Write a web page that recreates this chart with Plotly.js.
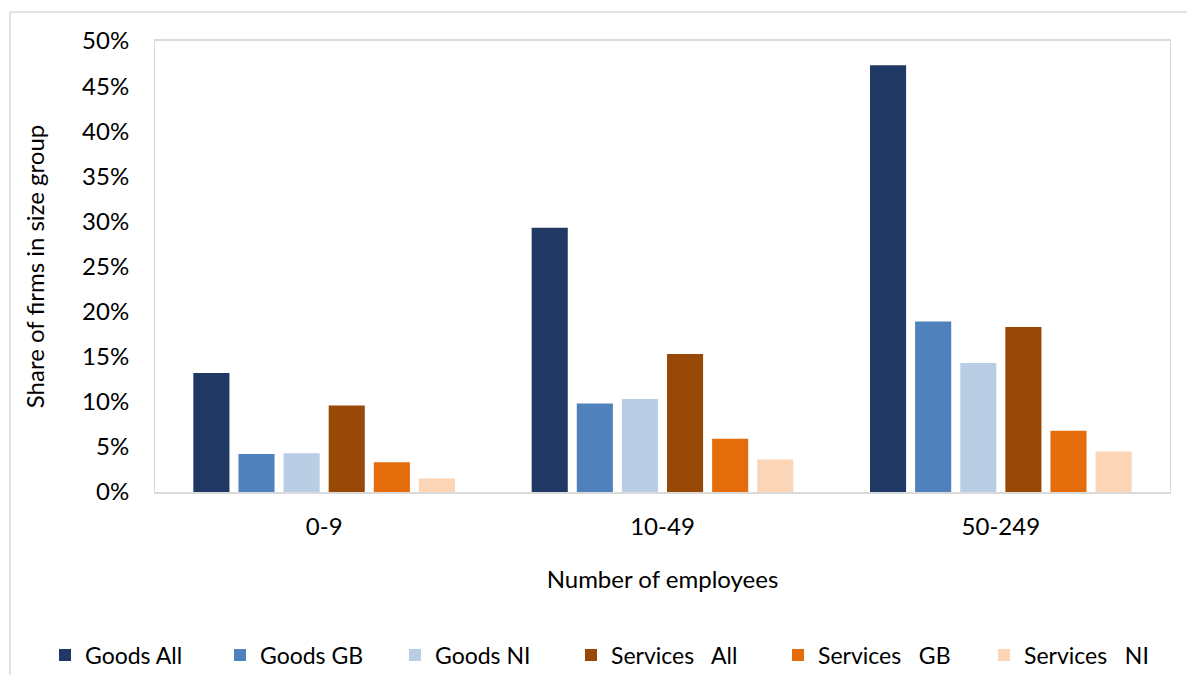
<!DOCTYPE html>
<html>
<head>
<meta charset="utf-8">
<script src="https://cdn.plot.ly/plotly-3.0.1.min.js"></script>
<style>html,body{margin:0;padding:0;background:#fff;}#chart{width:1187px;height:675px;}</style>
</head>
<body>
<div id="chart"></div>
<script>
const categories = ["0-9", "10-49", "50-249"];
const seriesNames = ["Goods All", "Goods GB", "Goods NI", "Services\u00a0\u00a0 All", "Services\u00a0\u00a0 GB", "Services\u00a0\u00a0 NI"];
const goodsAll = [13.2, 29.3, 47.3];
const goodsGB = [4.2, 9.8, 18.9];
const goodsNI = [4.3, 10.3, 14.3];
const servicesAll = [9.6, 15.3, 18.3];
const servicesGB = [3.3, 5.9, 6.8];
const servicesNI = [1.5, 3.6, 4.5];
const colors = ["#203864", "#4F81BD", "#B9CDE5", "#984807", "#E46C0A", "#FBD5B5"];
const yTicks = [0, 5, 10, 15, 20, 25, 30, 35, 40, 45, 50];

const allSeries = [goodsAll, goodsGB, goodsNI, servicesAll, servicesGB, servicesNI];
const legendOf = ["legend", "legend", "legend", "legend2", "legend2", "legend3"];
const font = "Lato, 'Liberation Sans', sans-serif";
const traces = allSeries.map((vals, i) => ({
  type: "bar",
  name: seriesNames[i],
  x: categories,
  y: vals,
  marker: {color: colors[i]},
  legend: legendOf[i],
  hoverinfo: "x+y+name"
}));

const L = 155, R = 1170, T = 41, B = 492;
const W = 1187, H = 675;

const legendBase = {
  orientation: "h", xanchor: "left", xref: "container", yref: "container",
  y: 1 - 655 / H, yanchor: "middle",
  font: {family: font, size: 23, color: "#000"},
  itemwidth: 30, traceorder: "normal",
  bgcolor: "rgba(0,0,0,0)"
};

const layout = {
  width: W, height: H,
  margin: {l: L, r: W - R, t: T, b: H - B},
  paper_bgcolor: "#fff", plot_bgcolor: "#fff",
  font: {family: font, size: 24, color: "#000"},
  barmode: "group",
  bargap: 0.2,
  bargroupgap: 0.2,
  showlegend: true,
  legend: Object.assign({}, legendBase, {x: 45 / W, entrywidth: 130, entrywidthmode: "pixels"}),
  legend2: Object.assign({}, legendBase, {x: 571 / W, entrywidth: 162, entrywidthmode: "pixels"}),
  legend3: Object.assign({}, legendBase, {x: 984 / W}),
  xaxis: {
    type: "category",
    showline: true, linecolor: "#d9d9d9", linewidth: 2, mirror: true,
    ticks: "", showgrid: false, zeroline: false,
    tickfont: {family: font, size: 24},
    ticklabelstandoff: 12,
    title: {text: "Number of employees", font: {family: font, size: 24}, standoff: 32},
    fixedrange: true
  },
  yaxis: {
    range: [0, 50],
    tickvals: yTicks,
    ticktext: yTicks.map(v => v + "%"),
    showline: true, linecolor: "#d9d9d9", linewidth: 1, mirror: true,
    ticks: "", showgrid: false, zeroline: false,
    tickfont: {family: font, size: 24},
    ticklabelstandoff: 20,
    title: {text: "Share of firms in size group", font: {family: font, size: 24}, standoff: 30},
    fixedrange: true
  },
  shapes: [
    {type: "line", xref: "paper", yref: "paper", x0: (10 - L) / (R - L), x1: (10 - L) / (R - L), y0: (B - 12) / (B - T), y1: (B - H - 5) / (B - T), line: {color: "#d9d9d9", width: 1.5}},
    {type: "line", xref: "paper", yref: "paper", x0: (10 - L) / (R - L), x1: (W + 5 - L) / (R - L), y0: (B - 12) / (B - T), y1: (B - 12) / (B - T), line: {color: "#d9d9d9", width: 1.5}}
  ]
};

Plotly.newPlot("chart", traces, layout, {displayModeBar: false, staticPlot: false});
</script>
</body>
</html>
